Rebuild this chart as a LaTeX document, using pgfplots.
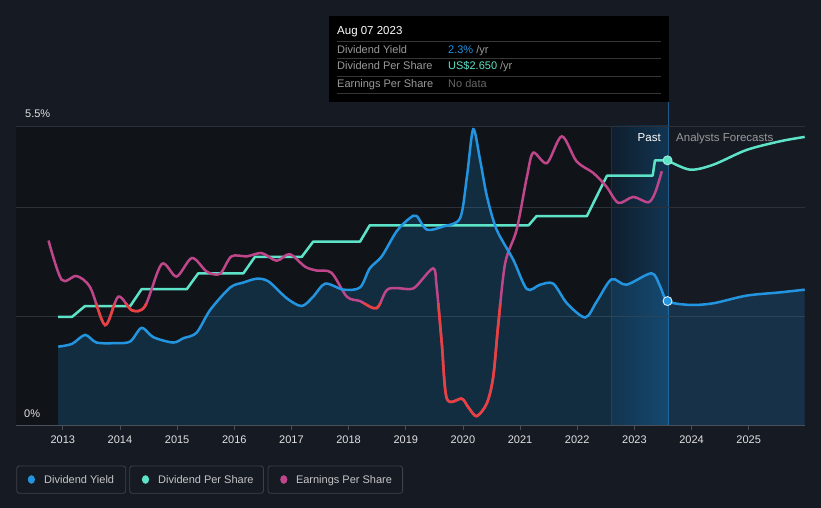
\documentclass[border=0pt]{standalone}
\usepackage{pgfplots}
\usepackage{pgfplotstable}
\pgfplotsset{compat=1.18}
\usepackage{fontspec}
\setmainfont{Liberation Sans}
\definecolor{bg}{HTML}{151A23}
\definecolor{pastbg}{HTML}{101419}
\definecolor{gridc}{HTML}{2C3139}
\definecolor{axisc}{HTML}{4B5058}
\definecolor{blueC}{HTML}{2394DF}
\definecolor{tealC}{HTML}{5DE3C7}
\definecolor{magC}{HTML}{C0468B}
\definecolor{redC}{HTML}{E8413F}
\definecolor{bandL}{HTML}{0F1E2D}
\definecolor{bandR}{HTML}{123552}
\definecolor{bandE}{HTML}{16324B}
\definecolor{vline}{HTML}{1F5C8C}
\definecolor{ticklab}{HTML}{E2E2E2}
\definecolor{tipgray}{HTML}{9A9A9A}
\definecolor{tipsep}{HTML}{353535}
\definecolor{legtext}{HTML}{C6C6C6}
\definecolor{legbox}{HTML}{3C414A}

\pgfplotstableread{
x y
2012.92 1.455
2013.16 1.505
2013.39 1.67
2013.59 1.53
2013.94 1.52
2014.18 1.55
2014.38 1.80
2014.58 1.63
2014.93 1.53
2015.11 1.61
2015.34 1.71
2015.58 2.13
2015.93 2.54
2016.16 2.63
2016.39 2.70
2016.60 2.65
2016.92 2.34
2017.18 2.20
2017.38 2.37
2017.59 2.61
2017.91 2.50
2018.20 2.54
2018.37 2.89
2018.58 3.11
2018.84 3.57
2019.07 3.81
2019.19 3.85
2019.37 3.60
2019.66 3.66
2019.95 3.81
2020.07 4.57
2020.18 5.44
2020.30 4.88
2020.42 4.21
2020.59 3.60
2020.88 3.05
2021.12 2.51
2021.35 2.59
2021.58 2.61
2021.82 2.25
2022.14 1.99
2022.34 2.28
2022.60 2.69
2022.86 2.59
2023.30 2.80
2023.45 2.56
2023.58 2.29
2023.97 2.22
2024.38 2.25
2024.96 2.39
2025.55 2.45
2025.98 2.50
}\dy

\pgfplotstableread{
x y
2012.92 2.00
2013.16 2.00
2013.39 2.20
2014.18 2.20
2014.38 2.51
2015.17 2.51
2015.37 2.80
2016.16 2.80
2016.36 3.10
2017.18 3.10
2017.38 3.38
2018.20 3.38
2018.37 3.68
2021.15 3.68
2021.29 3.85
2022.17 3.85
2022.52 4.59
2023.32 4.59
2023.36 4.87
2023.58 4.87
}\dps

\pgfplotstableread{
x y
2023.58 4.87
2023.97 4.70
2024.38 4.79
2024.96 5.06
2025.55 5.22
2025.98 5.30
}\dpsf

\pgfplotstableread{
x y
2012.75 3.40
2012.98 2.68
2013.24 2.75
2013.48 2.54
2013.74 1.85
2013.97 2.37
2014.21 2.12
2014.44 2.20
2014.73 2.97
2014.99 2.74
2015.26 3.08
2015.52 2.83
2015.75 2.79
2015.95 3.11
2016.22 3.11
2016.48 3.17
2016.74 3.03
2016.97 3.15
2017.24 2.92
2017.44 2.85
2017.70 2.81
2017.97 2.37
2018.20 2.29
2018.49 2.16
2018.69 2.51
2019.07 2.51
2019.19 2.57
2019.48 2.89
2019.54 2.56
2019.63 1.52
2019.72 0.50
2019.98 0.50
2020.09 0.35
2020.24 0.18
2020.42 0.42
2020.53 0.90
2020.62 1.88
2020.74 2.99
2020.94 3.60
2021.12 4.57
2021.23 5.01
2021.47 4.82
2021.73 5.31
2021.99 4.85
2022.28 4.64
2022.51 4.39
2022.72 4.09
2022.98 4.20
2023.24 4.10
2023.36 4.27
2023.48 4.67
}\eps

\begin{document}
\begin{tikzpicture}[x=1pt,y=1pt]
\useasboundingbox (0,0) rectangle (821,508);
\fill[bg] (0,0) rectangle (821,508);
\fill[pastbg] (16,82) rectangle (668,382);
\shade[left color=bandL, right color=bandR] (611,82) rectangle (668,382);
\draw[bandE, line width=0.8pt] (611.5,82) -- (611.5,382);
\draw[vline, line width=0.8pt] (668,82) -- (668,407);

\begin{axis}[at={(16pt,82pt)}, anchor=south west, scale only axis,
  width=789pt, height=300pt,
  xmin=2012.181, xmax=2025.985, ymin=0, ymax=5.5,
  axis line style={draw=none},
  ytick={2,4,5.5}, yticklabels={}, ymajorgrids,
  grid style={gridc, line width=1pt},
  ytick style={draw=none},
  xtick={2013,2014,2015,2016,2017,2018,2019,2020,2021,2022,2023,2024,2025},
  xticklabels={2013,2014,2015,2016,2017,2018,2019,2020,2021,2022,2023,2024,2025},
  xtick pos=bottom, tick align=outside, major tick length=4pt,
  xtick style={axisc, line width=0.8pt},
  xticklabel style={font=\fontsize{11}{13}\selectfont, text=ticklab, yshift=-2pt},
  clip=false]
\addplot[draw=none, fill=blueC, fill opacity=0.2, smooth] table {\dy} \closedcycle;
\addplot[tealC, line width=2.5pt, line join=round] table {\dps};
\addplot[tealC, line width=2.5pt, smooth] table {\dpsf};
\addplot[magC, line width=2.5pt, smooth] table {\eps};
\begin{scope}
\clip (axis cs:2012.2,0) rectangle (axis cs:2025.9,2.24);
\addplot[redC, line width=2.5pt, smooth] table {\eps};
\end{scope}
\addplot[blueC, line width=2.5pt, smooth] table {\dy};
\addplot[only marks, mark=*, mark size=4.5pt, mark options={fill=tealC, draw=tealC!60!white, line width=0.9pt}] coordinates {(2023.58,4.87)};
\addplot[only marks, mark=*, mark size=4.5pt, mark options={fill=blueC, draw=white!85!blueC, line width=0.9pt}] coordinates {(2023.58,2.29)};
\end{axis}

\draw[axisc, line width=1pt] (16,82) -- (805,82);

% tooltip
\fill[black] (329,406) rectangle (669,492);
\foreach \yy in {466.7,449.7,432,415} \draw[tipsep, line width=0.8pt] (337,\yy) -- (661,\yy);
\node[anchor=base west, inner sep=0, text=white, font=\fontsize{11.5}{13}\selectfont] at (337,473) {Aug 07 2023};
\node[anchor=base west, inner sep=0, text=tipgray, font=\fontsize{11}{13}\selectfont] at (337,454.7) {Dividend Yield};
\node[anchor=base west, inner sep=0, text=tipgray, font=\fontsize{11}{13}\selectfont] at (337,438) {Dividend Per Share};
\node[anchor=base west, inner sep=0, text=tipgray, font=\fontsize{11}{13}\selectfont] at (337,420.7) {Earnings Per Share};
\node[anchor=base west, inner sep=0, font=\fontsize{11}{13}\selectfont] at (448,454.7) {\textcolor{blueC}{2.3\%} \textcolor{tipgray}{/yr}};
\node[anchor=base west, inner sep=0, font=\fontsize{11}{13}\selectfont] at (448,438) {\textcolor{tealC}{US\$2.650} \textcolor{tipgray}{/yr}};
\node[anchor=base west, inner sep=0, text=white!40!black, font=\fontsize{11}{13}\selectfont] at (448,420.7) {No data};

% labels
\node[anchor=base west, inner sep=0, text=ticklab, font=\fontsize{11}{13}\selectfont] at (25,390.7) {5.5\%};
\node[anchor=base west, inner sep=0, text=ticklab, font=\fontsize{11}{13}\selectfont] at (24,90.7) {0\%};
\node[anchor=base west, inner sep=0, text=white, font=\fontsize{11.5}{13}\selectfont] at (637.5,366.3) {Past};
\node[anchor=base west, inner sep=0, text=tipgray, font=\fontsize{11.5}{13}\selectfont] at (676,366.3) {Analysts Forecasts};

% legend
\draw[legbox, line width=0.8pt, rounded corners=2.5pt] (16.8,14.7) rectangle (125.7,42);
\draw[legbox, line width=0.8pt, rounded corners=2.5pt] (129.8,14.7) rectangle (263.4,42);
\draw[legbox, line width=0.8pt, rounded corners=2.5pt] (268,14.7) rectangle (402.6,42);
\fill[blueC] (31.4,28.5) ellipse (3.6 and 4.3);
\fill[tealC] (145.5,28.5) ellipse (3.6 and 4.3);
\fill[magC] (283.8,28.5) ellipse (3.6 and 4.3);
\node[anchor=base west, inner sep=0, text=legtext, font=\fontsize{11}{13}\selectfont] at (44,24.7) {Dividend Yield};
\node[anchor=base west, inner sep=0, text=legtext, font=\fontsize{11}{13}\selectfont] at (158,24.7) {Dividend Per Share};
\node[anchor=base west, inner sep=0, text=legtext, font=\fontsize{11}{13}\selectfont] at (295.8,24.7) {Earnings Per Share};
\end{tikzpicture}
\end{document}
